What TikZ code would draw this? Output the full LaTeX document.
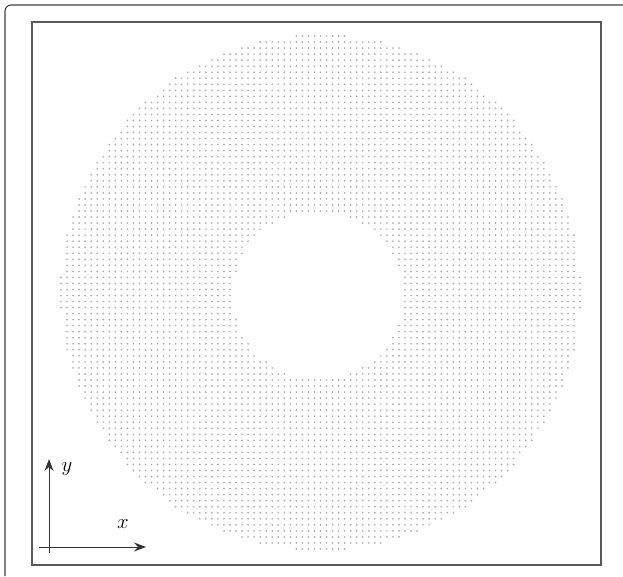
\documentclass[tikz,border=0pt]{standalone}
\usepackage{tikz}
\usetikzlibrary{arrows.meta}

\begin{document}
\begin{tikzpicture}[
    x=1pt, y=-1pt,
    % Define styles for frames, dots and axes
    outerframe/.style={draw=black!75, line width=1.1pt, rounded corners=6pt},
    innerframe/.style={draw=black!65, line width=1.6pt},
    dot/.style={fill=black!33},
    axis/.style={-{Stealth[length=12pt, width=9pt, inset=4pt]}, line width=1pt, black!80},
    axislabel/.style={font=\fontsize{20}{22}\selectfont, inner sep=0pt}
]
    \useasboundingbox (0,0) rectangle (623,576);

    % Frames
    \draw[outerframe] (623,5) -- (5,5) -- (5,576);
    \draw[innerframe] (32,22) rectangle (601,565);

    % The ring of grid points
    \foreach \i in {0,...,86}{
      \foreach \j in {0,...,85}{
        \pgfmathsetmacro{\px}{61+6.035*\i}
        \pgfmathsetmacro{\py}{36+6.035*\j}
        \pgfmathtruncatemacro{\inring}{(((\px-320.5)/260)^2+((\py-292.5)/258)^2<=1) && (((\px-318)/85)^2+((\py-295)/84)^2>1)}
        \ifnum\inring=1 \fill[dot] (\px,\py) circle[radius=0.95]; \fi
      }
    }

    % Axes
    \coordinate (xstart) at (39,547);
    \coordinate (xtip) at (146,547);
    \coordinate (ystart) at (49,553);
    \coordinate (ytip) at (49,459);
    \draw[axis] (xstart) -- (xtip);
    \draw[axis] (ystart) -- (ytip);
    \node[axislabel] (xlabel) at (123,524) {$x$};
    \node[axislabel] (ylabel) at (67,469) {$y$};
\end{tikzpicture}
\end{document}
